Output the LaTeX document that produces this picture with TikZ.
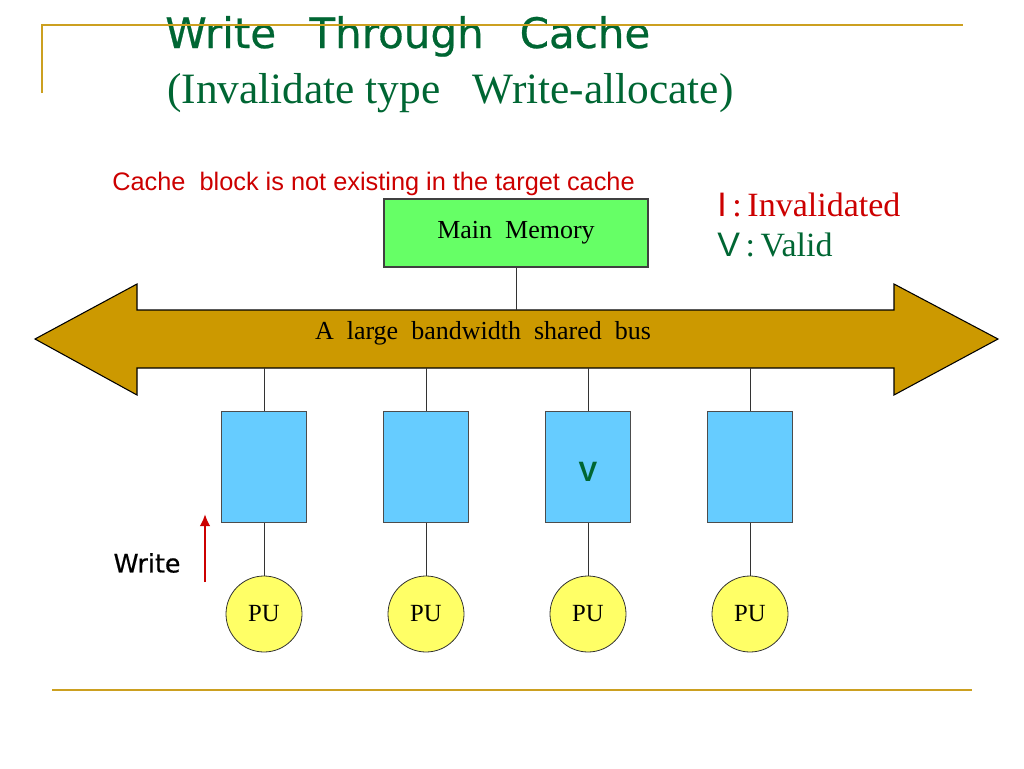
\documentclass[tikz,border=0pt]{standalone}
\usepackage{fontspec}
\setmainfont{Liberation Serif}
\setsansfont{Liberation Sans}
\newfontfamily\gothicfont[FakeBold=0.6]{DejaVu Sans}
\usepackage{tikz}
\usetikzlibrary{calc,arrows.meta}
\definecolor{Gold}{RGB}{204,160,32}
\definecolor{TitleGreen}{RGB}{0,102,51}
\definecolor{InvRed}{RGB}{204,0,0}
\definecolor{BusGold}{RGB}{204,153,0}
\definecolor{MemGreen}{RGB}{102,255,102}
\definecolor{CacheBlue}{RGB}{102,204,255}
\definecolor{PUYellow}{RGB}{255,255,102}
\tikzset{%Global config
	>=latex,
	color = black ,
	x=0.75pt, y=-0.75pt,
	%Styles
	Rule/.style={
		draw=Gold,
		line width=1.6pt,
	},
	Memo/.style={
		draw=black!75,
		fill=MemGreen,
		line width=0.8pt,
		minimum width=198pt,
		minimum height=51pt,
		inner sep=0pt,
		font=\fontsize{19.5}{22}\selectfont,
	},
	Cache/.style={
		draw=black!70,
		fill=CacheBlue,
		line width=0.8pt,
		minimum width=63.75pt,
		minimum height=83.25pt,
		inner sep=0pt,
	},
	PU/.style={
		circle,
		draw=black!80,
		fill=PUYellow,
		line width=0.6pt,
		minimum size=57pt,
		inner sep=0pt,
		font=\fontsize{18.5}{20}\selectfont,
	},
	Bus/.style={
		fill=BusGold,
		draw=black,
		line width=0.8pt,
	},
	Link/.style={
		draw=black!80,
		line width=0.6pt,
	},
	WArrow/.style={
		draw=InvRed,
		line width=2pt,
		-{Latex[length=9pt,width=8pt]},
	},
}

\begin{document}
\begin{tikzpicture}
		\useasboundingbox (0,0) rectangle (1024,768);
		% titles
		\node[anchor=base west, text=TitleGreen, font=\gothicfont\fontsize{31.5}{34}\selectfont, inner sep=0pt] (title) at (165,48) {Write\hspace{25pt}Through\hspace{27pt}Cache};
		\node[anchor=base west, text=TitleGreen, font=\fontsize{32.5}{36}\selectfont, inner sep=0pt] (subtitle) at (167,103) {(Invalidate type\ \ \ Write-allocate)};
		\node[anchor=base west, text=InvRed, font=\sffamily\fontsize{19}{22}\selectfont, inner sep=0pt] (note) at (112,190) {Cache\ \ block is not existing in the target cache};
		
		% frame rules
		\draw[Rule] (42,93) -- (42,25) -- (963,25);
		\draw[Rule] (52,690) -- (972,690);
		
		% legend
		\node[anchor=base west, text=InvRed, font=\fontsize{25.5}{28}\selectfont, inner sep=0pt] (inv) at (717,216) {{\sffamily I}\,:\,Invalidated};
		\node[anchor=base west, text=TitleGreen, font=\fontsize{25.5}{28}\selectfont, inner sep=0pt] (val) at (717,256) {{\sffamily V}\,:\,Valid};
		
		% memory and bus
		\node[Memo] (mem) at (516,233) {\raisebox{-2pt}{Main\ \ Memory}};
		\fill[Bus] (35,339) -- (137,284) -- (137,310) -- (894,310) -- (894,284)
			-- (998,339) -- (894,395) -- (894,368) -- (137,368) -- (137,395) -- cycle;
		\node[minimum width=567.75pt, minimum height=43.5pt, inner sep=0pt] (bus) at (515.5,339) {};
		\node[font=\fontsize{19.5}{22}\selectfont, inner sep=0pt] (buslabel) at (483,333) {A\ \ large\ \ bandwidth\ \ shared\ \ bus};
		\draw[Link] (mem.south) -- (mem |- bus.north);
		
		% caches and processing units
		\foreach \i in {1,...,4}{
			\node[Cache] (C\i) at ({264+162*(\i-1)},467) {};
			\node[PU] (P\i) at ({264+162*(\i-1)},614) {PU};
			\draw[Link] (C\i.north) -- (C\i |- bus.south);
			\draw[Link] (C\i.south) -- (P\i.north);
		}
		\node[text=TitleGreen, font=\sffamily\bfseries\fontsize{21}{24}\selectfont] (vmark) at ($(C3)+(0,5)$) {V};
		
		% write access
		\node[font=\gothicfont\fontsize{19}{22}\selectfont, inner sep=0pt] (write) at (147,563) {Write};
		\coordinate (wA) at (205,582);
		\coordinate (wB) at (205,514);
		\draw[WArrow] (wA) -- (wB);
	\end{tikzpicture}
\end{document}
